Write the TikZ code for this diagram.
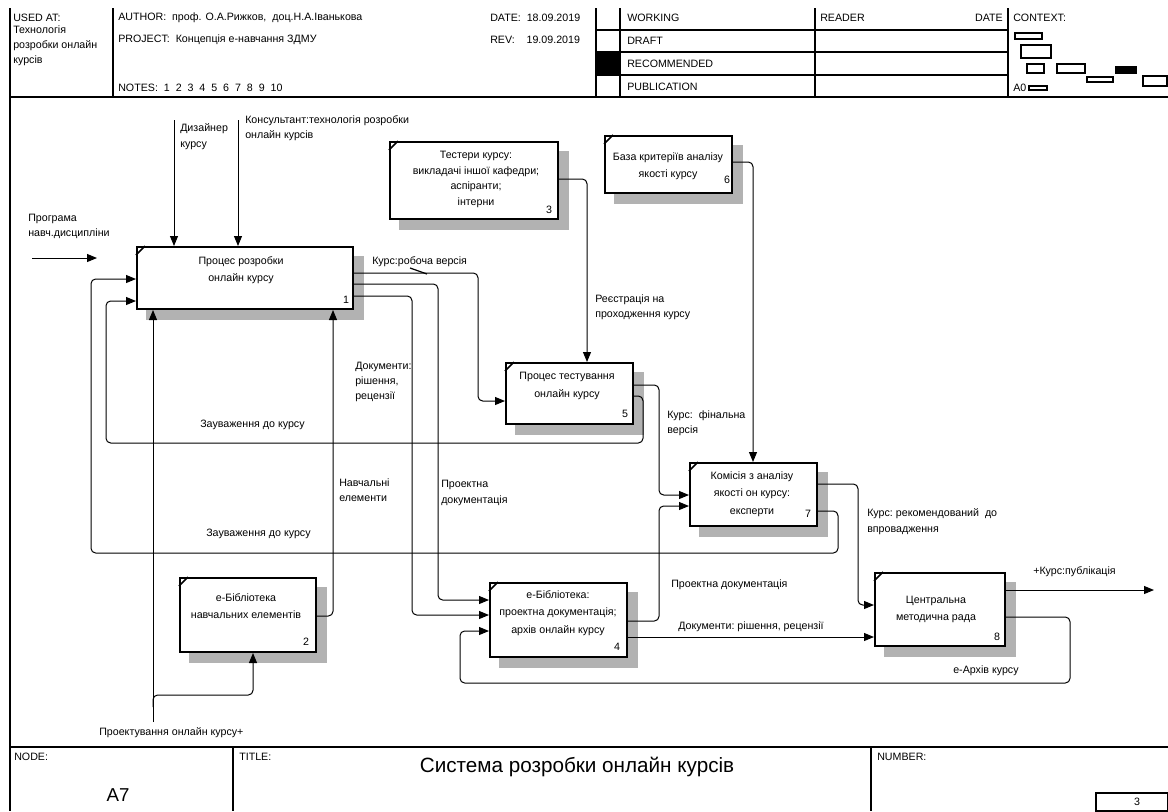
\documentclass[tikz,border=0pt]{standalone}
\usepackage{fontspec}
\setmainfont{Liberation Sans}
\usetikzlibrary{arrows.meta,calc,backgrounds}
\begin{document}
\begin{tikzpicture}[x=0.75pt,y=-0.75pt,
  every node/.style={font=\fontsize{8}{9}\selectfont, inner sep=0pt},
  frame/.style={line width=0.9pt},
  idef/.style={draw, line width=1.5pt, fill=white},
  shade/.style={fill=black!30},
  tick/.style={line width=1.1pt},
  conn/.style={line width=0.75pt, rounded corners=3.5pt},
  arr/.style={conn, -{Triangle[length=7.5pt,width=6pt]}},
  lbl/.style={align=left, anchor=west, font=\fontsize{8}{11.5}\selectfont},
  btxt/.style={align=center, font=\fontsize{8}{13}\selectfont},
  hdr/.style={anchor=west, font=\fontsize{8}{11}\selectfont},
  ctx/.style={draw, line width=0.8pt}
]
\useasboundingbox (0,0) rectangle (1168,811);

% ---------- frame and header ----------
\draw[frame] (10,8) -- (10,811);
\draw[frame] (10,97) -- (1168,97);
\draw[frame] (113,8) -- (113,97);
\draw[frame] (596,8) -- (596,97);
\draw[frame] (620,8) -- (620,97);
\draw[frame] (815,8) -- (815,97);
\draw[frame] (1008,8) -- (1008,97);
\draw[frame] (596,30) -- (1008,30);
\draw[frame] (596,52) -- (1008,52);
\draw[frame] (596,75) -- (1008,75);
\fill (596,52) rectangle (620,75);

\node[hdr] (usedat) at (13,18) {USED AT:};
\node[hdr, align=left, anchor=north west] (usedtxt) at (13,26) {Технологія\\розробки онлайн\\курсів};
\node[hdr] (author) at (118,18) {AUTHOR:\ \ проф. О.А.Рижков,\ \ доц.Н.А.Іванькова};
\node[hdr] (project) at (118,40) {PROJECT:\ \ Концепція е-навчання ЗДМУ};
\node[hdr] (notes) at (118,88) {NOTES:\ \ 1\ \ 2\ \ 3\ \ 4\ \ 5\ \ 6\ \ 7\ \ 8\ \ 9\ \ 10};
\node[hdr] (date) at (490,18) {DATE:\ \ 18.09.2019};
\node[hdr] (rev) at (490,40) {REV:\ \ \ \ 19.09.2019};
\node[hdr] (working) at (627,18) {WORKING};
\node[hdr] (draft) at (627,41) {DRAFT};
\node[hdr] (recom) at (627,64) {RECOMMENDED};
\node[hdr] (publ) at (627,87) {PUBLICATION};
\node[hdr] (reader) at (820,18) {READER};
\node[hdr, anchor=east] (rdate) at (1003,18) {DATE};
\node[hdr] (context) at (1013,18) {CONTEXT:};
\node[hdr] (a0) at (1013,88) {A0};

\draw[ctx] (1015,33) rectangle (1042,39);
\draw[ctx] (1021,45) rectangle (1051,58);
\draw[ctx] (1027,64) rectangle (1044,73);
\draw[ctx] (1057,64) rectangle (1085,73);
\fill (1115,66) rectangle (1137,74);
\draw[ctx] (1087,77) rectangle (1113,82);
\draw[ctx] (1143,76) rectangle (1167,86);
\draw[ctx] (1029,86) rectangle (1047,90);

% ---------- bottom block ----------
\draw[frame] (10,747) -- (1168,747);
\draw[frame] (233,747) -- (233,811);
\draw[frame] (871,747) -- (871,811);
\node[hdr] (nodel) at (14,757) {NODE:};
\node[font=\fontsize{14}{16}\selectfont] (a7) at (118,795) {A7};
\node[hdr] (titlel) at (239,757) {TITLE:};
\node[font=\fontsize{15.5}{18}\selectfont] (title) at (577,767) {Система розробки онлайн курсів};
\node[hdr] (numl) at (877,757) {NUMBER:};
\draw[ctx] (1096,793) rectangle (1168,811);
\node (pnum) at (1137,802) {3};

% ---------- activity boxes ----------
\node[idef, minimum width=162pt, minimum height=46.5pt] (b1) at (245,278) {};
\node[idef, minimum width=126pt, minimum height=57.75pt] (b3) at (474,180.5) {};
\node[idef, minimum width=95.25pt, minimum height=42.75pt] (b6) at (668.5,164.5) {};
\node[idef, minimum width=95.25pt, minimum height=45.75pt] (b5) at (569.5,393.5) {};
\node[idef, minimum width=95.25pt, minimum height=47.25pt] (b7) at (753.5,494.5) {};
\node[idef, minimum width=102pt, minimum height=55.5pt] (b2) at (248,615) {};
\node[idef, minimum width=102.75pt, minimum height=55.5pt] (b4) at (558.5,620) {};
\node[idef, minimum width=97.5pt, minimum height=54.75pt] (b8) at (940,609.5) {};

\begin{scope}[on background layer]
\foreach \b in {b1,b2,b3,b4,b5,b6,b7,b8}
  \fill[shade] ($(\b.south west)+(10,10)$) rectangle ($(\b.north east)+(10,10)$);
\end{scope}
\foreach \b in {b1,b2,b3,b4,b5,b6,b7,b8}
  \draw[tick] ($(\b.north west)+(0,9)$) -- ($(\b.north west)+(9,0)$);

\node[btxt] (t1) at (241,270) {Процес розробки\\онлайн курсу};
\node[btxt, font=\fontsize{8}{11.8}\selectfont] (t3) at (476,179.5) {Тестери курсу:\\викладачі іншої кафедри;\\аспіранти;\\інтерни};
\node[btxt] (t6) at (668,166) {База критеріїв аналізу\\якості курсу};
\node[btxt] (t5) at (567,386) {Процес тестування\\онлайн курсу};
\node[btxt] (t7) at (752,494) {Комісія з аналізу\\якості он курсу:\\експерти};
\node[btxt] (t2) at (246,606) {е-Бібліотека\\навчальних елементів};
\node[btxt] (t4) at (558,613) {е-Бібліотека:\\проектна документація;\\архів онлайн курсу};
\node[btxt] (t8) at (936,609.5) {Центральна\\методична рада};

\node (n1) at (346,300) {1};
\node (n3) at (549,210) {3};
\node (n6) at (727,180) {6};
\node (n5) at (625,414) {5};
\node (n7) at (808,514) {7};
\node (n2) at (306,642) {2};
\node (n4) at (617,647) {4};
\node (n8) at (997,637) {8};

% ---------- free ends ----------
\coordinate (inprog) at (32,258);
\coordinate (inprogend) at (97,258);
\coordinate (designer) at (174,120);
\coordinate (consult) at (238,120);
\coordinate (mech) at (153,722);
\coordinate (publout) at (1154,590);

% ---------- connectors ----------
\draw[arr] (inprog) -- (inprogend);
\node[lbl] (lprog) at (28,226.5) {Програма\\навч.дисципліни};

\draw[arr] (designer) -- (designer |- b1.north);
\node[lbl] (ldes) at (180,136.5) {Дизайнер\\курсу};
\draw[arr] (consult) -- (consult |- b1.north);
\node[lbl] (lcons) at (245,128) {Консультант:технологія розробки\\онлайн курсів};

% box1 outputs
\draw[arr] (b1.east |- 0,273) -- (478,273) -- (478,401) -- (b5.west |- 0,401);
\node[lbl] (lwork) at (372,262) {Курс:робоча версія};
\draw[line width=0.9pt] (410,268) -- (427,274);
\draw[arr] (b1.east |- 0,284) -- (438,284) -- (438,600) -- (b4.west |- 0,600);
\node[lbl] (lproj1) at (441,493) {Проектна\\документація};
\draw[arr] (b1.east |- 0,296) -- (412,296) -- (412,615) -- (b4.west |- 0,615);
\node[lbl] (ldocs1) at (355,382) {Документи:\\рішення,\\рецензії};

% box3 -> box5
\draw[arr] (b3.east |- 0,179) -- (587,179) -- (587,179 |- b5.north);
\node[lbl] (lreg) at (595,307.5) {Реєстрація на\\проходження курсу};

% box6 -> box7
\draw[arr] (b6.east |- 0,162) -- (753,162) -- (753,162 |- b7.north);

% box5 outputs
\draw[arr] (b5.east |- 0,385) -- (659,385) -- (659,495) -- (b7.west |- 0,495);
\node[lbl] (lfinal) at (667,423.5) {Курс:\ \ фінальна\\версія};
\draw[arr] (b5.east |- 0,396) -- (643,396) -- (643,443) -- (106,443) -- (106,301) -- (b1.west |- 0,301);
\node[lbl] (lrem1) at (200,425) {Зауваження до курсу};

% box7 outputs
\draw[arr] (b7.east |- 0,511) -- (838,511) -- (838,553) -- (91,553) -- (91,279) -- (b1.west |- 0,279);
\node[lbl] (lrem2) at (206,534) {Зауваження до курсу};
\draw[arr] (b7.east |- 0,484) -- (858,484) -- (858,605) -- (b8.west |- 0,605);
\node[lbl] (lrec) at (867,521.5) {Курс:\ рекомендований\ \ до\\впровадження};

% box4 outputs
\draw[arr] (b4.east |- 0,621) -- (659,621) -- (659,506) -- (b7.west |- 0,506);
\node[lbl] (lproj2) at (671,585) {Проектна документація};
\draw[arr] (b4.east |- 0,637) -- (b8.west |- 0,637);
\node[lbl] (ldocs2) at (678,627) {Документи:\ рішення, рецензії};

% box8 outputs
\draw[arr] (b8.east |- 0,590) -- (publout);
\node[lbl] (lpubl) at (1033,572) {+Курс:публікація};
\draw[arr] (b8.east |- 0,617) -- (1070,617) -- (1070,683) -- (460,683) -- (460,631) -- (b4.west |- 0,631);
\node[lbl] (larch) at (953,671) {е-Архів курсу};

% box2 output
\draw[arr] (b2.east |- 0,616) -- (333,616) -- (333,616 |- b1.south);
\node[lbl] (lelem) at (339,490) {Навчальні\\елементи};

% mechanism
\draw[arr] (mech) -- (mech |- b1.south);
\draw[arr] (153,707) -- (153,695) -- (253,695) -- (253,695 |- b2.south);
\node[lbl] (lmech) at (99,733) {Проектування онлайн курсу+};
\end{tikzpicture}
\end{document}
